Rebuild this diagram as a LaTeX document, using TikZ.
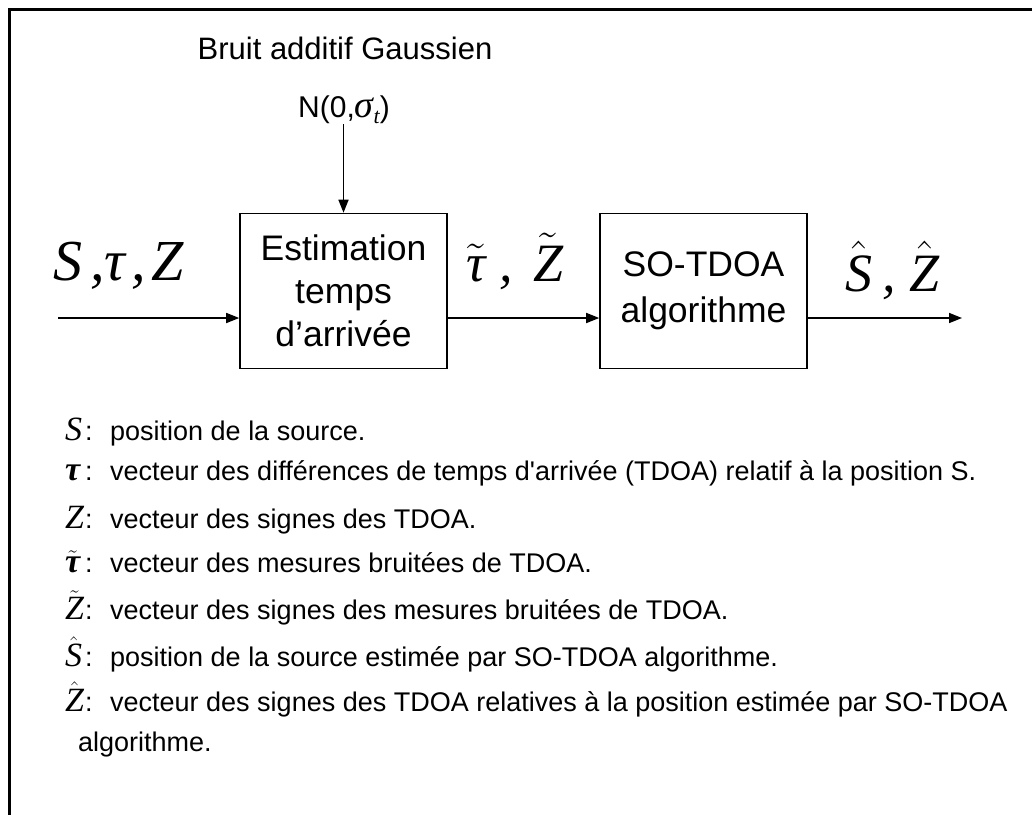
\RequirePackage{fix-cm}
\documentclass[tikz,border=0pt]{standalone}
\usepackage{fontspec}
\setmainfont{Liberation Sans}
\newfontfamily\tnr{Liberation Serif}
\usetikzlibrary{arrows.meta}
\newcommand\fs[1]{\fontsize{#1}{#1}\selectfont}
\newcommand\mi[1]{{\tnr\itshape #1}}
\newcommand\mbi[1]{{\tnr\bfseries\itshape #1}}
\newcommand\tildex[1]{$\tilde{\hbox{#1}}$}
\newcommand\hatx[1]{$\hat{\hbox{#1}}$}
\newcommand\legline[2]{\makebox[20pt][l]{#1}\makebox[25pt][l]{:}#2}
\begin{document}
\begin{tikzpicture}[x=1pt,y=-1pt,
  box/.style={draw,line width=1.6pt,minimum width=207pt,minimum height=155pt,inner sep=0pt,align=center},
  conn/.style={line width=1.6pt,-{Triangle[length=13pt,width=10pt]}},
  lbl/.style={anchor=base west,inner sep=0pt},
  leg/.style={anchor=base west,inner sep=0pt,font=\fs{27}}]
\useasboundingbox (0,0) rectangle (1032,814);
\draw[line width=3pt] (9.5,830) -- (9.5,9.5) -- (1045,9.5);

\node[anchor=base,inner sep=0pt,font=\fs{31}] (bruit) at (345,59) {Bruit additif Gaussien};
\node[anchor=base,inner sep=0pt,font=\fs{30}] (noise) at (344,117) {N(0,\mi{\fs{38}σ}\raisebox{-6pt}{\mi{\fs{22}t}})};

\node[box,font=\fontsize{35.5}{43}\selectfont] (e1) at (343.5,291) {Estimation\\temps\\d’arrivée};
\node[box,font=\fontsize{35.5}{46}\selectfont] (e2) at (703.5,291) {SO-TDOA\\algorithme};

\coordinate (in) at (58,318);
\coordinate (out) at (962,318);
\coordinate (nz) at (343.5,124);
\draw[conn] (in) -- (in -| e1.west);
\draw[conn] (e1.east |- in) -- (e2.west |- in);
\draw[conn] (e2.east |- in) -- (out);
\draw[conn] (nz) -- (e1.north);

\node[lbl,font=\fs{58}] (lin) at (53,280) {\mi{S\hspace{8pt},τ\hspace{6pt},\hspace{6pt}Z}};
\node[lbl,font=\fs{54}] (lmid) at (466,281) {\tildex{\mi{τ}}\hspace{14pt}\mi{,}\hspace{20pt}\tildex{\mi{Z}}};
\node[lbl,font=\fs{54}] (lout) at (845,291) {\hatx{\mi{S}}\hspace{10pt}\mi{,}\hspace{14pt}\hatx{\mi{Z}}};

\node[leg] (d1) at (65,440) {\legline{\mi{\fs{34}S}}{position de la source.}};
\node[leg] (d2) at (65,480) {\legline{\mbi{\fs{34}τ}}{vecteur des différences de temps d\textquotesingle arrivée (TDOA) relatif à la position S.}};
\node[leg] (d3) at (65,528) {\legline{\mi{\fs{34}Z}}{vecteur des signes des TDOA.}};
\node[leg] (d4) at (65,572) {\legline{\tildex{\mbi{\fs{34}τ}}}{vecteur des mesures bruitées de TDOA.}};
\node[leg] (d5) at (65,619) {\legline{\tildex{\mi{\fs{34}Z}}}{vecteur des signes des mesures bruitées de TDOA.}};
\node[leg] (d6) at (65,666) {\legline{\hatx{\mi{\fs{34}S}}}{position de la source estimée par SO-TDOA algorithme.}};
\node[leg] (d7) at (65,711) {\legline{\hatx{\mi{\fs{34}Z}}}{vecteur des signes des TDOA relatives à la position estimée par SO-TDOA}};
\node[leg] (d8) at (78,751) {algorithme.};
\end{tikzpicture}
\end{document}
